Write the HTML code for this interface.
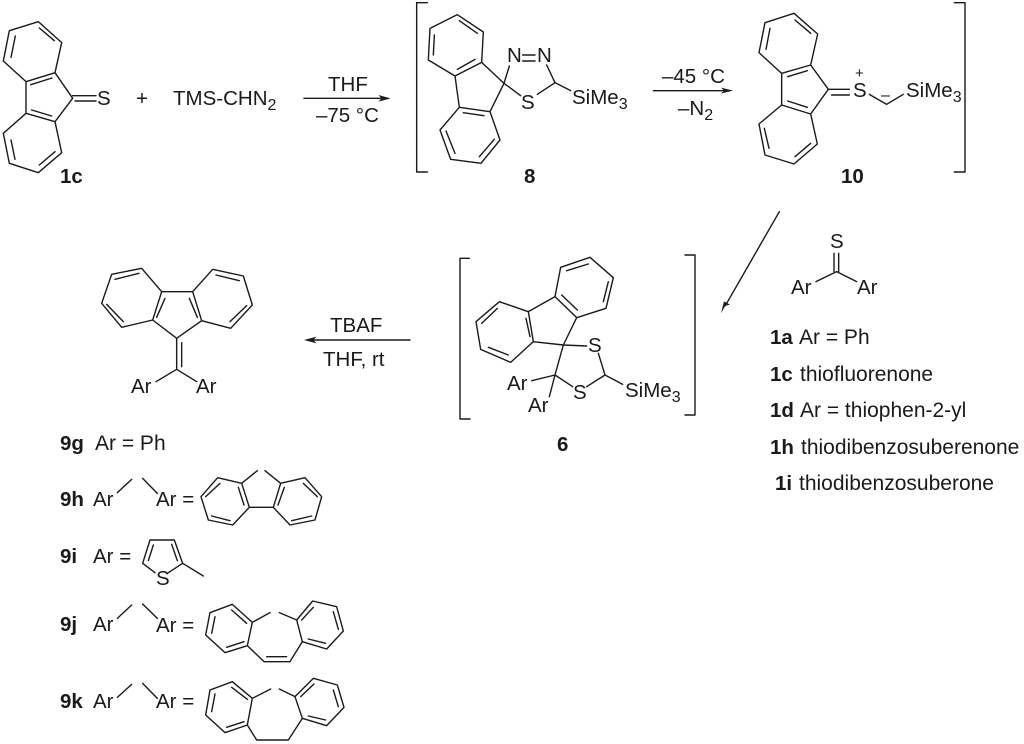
<!DOCTYPE html>
<html><head><meta charset="utf-8"><style>
html,body{margin:0;padding:0;background:#fff}
svg{display:block}
text{font-family:"Liberation Sans",Arial,sans-serif;font-size:20.5px;fill:#1a1a1a}
.c{font-size:21px}
.b{font-weight:bold}
tspan.s{font-size:16px}
g.m path{fill:none;stroke:#1a1a1a;stroke-width:4.2;stroke-linejoin:round;stroke-linecap:round}
g.m polygon{fill:#1a1a1a;stroke:none}
</style></head><body>
<svg width="1024" height="744" viewBox="0 0 1024 744" xmlns="http://www.w3.org/2000/svg">
<g class="m" transform="scale(.33333)">
<path d="M115 65L185 128L165 218L78 245L10 183L28 92ZM118 84L163 122M46 108L33 172M156 234L92 254M165 218L218 295L165 365L78 340L78 245M95 330L155 348M165 365L185 458L115 518L28 490L10 400L78 340M165 455L118 495M33 420L45 478M218 287L288 287M225 303L288 303M912 295L1150 295"/>
<polygon points="1172,295 1135,285 1145,295 1135,305"/>
</g>
<g class="m" transform="translate(400,0) scale(.33333)">
<path d="M82 8L50 8L50 516L82 516M172 44L250 96L245 187L165 228L85 180L90 85ZM178 62L232 100M103 105L100 165M225 178L172 208M245 187L312 250L270 335L178 322L165 228M190 338L252 347M270 335L300 420L243 490L152 478L120 390L178 322M283 418L238 470M138 393L165 460M312 250L328 198M368 165L405 165M368 183L405 183M440 195L465 248L412 283M465 248L512 272M312 250L362 287M760 272L975 272"/>
</g>
<g class="m" transform="translate(720,0) scale(.33333)">
<path d="M222 40L293 102L272 195L185 220L117 158L135 68ZM225 60L272 100M150 85L138 148M262 212L203 230M272 195L325 268L272 342L185 315L185 220M203 303L262 322M272 342L292 432L222 492L135 465L117 372L185 315M272 430L225 470M133 385L147 445M325 268L388 268M335 285L388 285M448 283L500 313L550 283M703 8L735 8L735 516L703 516"/>
<polygon points="39,272 3,263 12,272 3,281"/>
</g>
<g class="m" transform="translate(720,210) scale(.33333)">
<path d="M178 5L16 287M342 130L342 185M356 130L356 185M288 215L350 185L410 215"/>
<polygon points="3,310 12,274 30,284 16,287"/>
</g>
<g class="m" transform="translate(440,240) scale(.33333)">
<path d="M88 55L60 55L60 537L90 537M735 45L765 45L765 525L735 525M450 52L520 113L498 205L410 233L345 170L362 82ZM445 72L380 92M505 125L490 185M365 165L412 210M410 233L370 315L280 305L265 215L345 170M258 235L270 290M280 305L212 367L122 328L108 245L178 185L265 215M205 345L145 322M125 250L172 205M370 315L440 318M370 315L345 405L398 440M440 440L495 405L475 340M495 405L548 433M345 405L275 422M345 405L328 470"/>
</g>
<g class="m" transform="translate(60,240) scale(.33333)">
<path d="M245 85L305 155L278 240L185 262L125 190L155 103ZM237 100L165 118M140 193L190 245M305 155L398 155L425 242L350 295L278 240M315 175L290 232M388 175L412 232M398 155L458 88L550 108L577 195L512 265L425 242M468 105L538 122M560 197L510 245M350 295L350 388M365 308L365 380M288 425L350 388L410 425M1050 300L755 300"/>
<polygon points="732,300 770,290 760,300 770,310"/>
</g>
<g class="m" transform="translate(40,450) scale(.33333)">
<path d="M232 128L275 88M308 85L352 130M605 100L652 62M675 62L722 100M605 100L628 172L578 225L505 210L483 140L533 83ZM540 100L497 140M515 198L570 212M595 112L612 165M722 100L700 172L750 225L825 210L845 140L795 83ZM733 112L714 165M790 100L832 140M755 212L815 198M628 172L700 172M345 368L308 340L330 270L403 270L428 340L385 368M325 332L340 285M395 283L412 332M428 340L490 378"/>
</g>
<g class="m" transform="translate(40,590) scale(.33333)">
<path d="M232 85L275 45M308 42L352 85M577 43L637 97L622 167L555 188L497 135L510 68ZM575 60L620 100M525 80L515 130M560 172L612 155M770 90L818 33L890 50L910 123L860 177L787 155ZM785 90L820 52M880 65L895 118M805 147L857 160M637 97L690 68M718 68L770 90M622 167L672 215L750 215L787 155M680 200L740 200M232 322L275 283M308 280L352 325M577 275L637 325L622 405L555 428L497 375L510 300ZM575 292L622 328M525 312L515 365M560 412L612 395M765 320L820 265L892 285L912 352L860 407L787 385ZM782 320L822 282M880 300L895 350M805 378L857 390M637 325L692 297M718 297L765 320M622 405L650 450L745 450L787 385"/>
</g>

<text x="97" y="105">S</text>
<text x="136" y="105">+</text>
<text x="173" y="105">TMS-CHN<tspan class="s" dy="5">2</tspan></text>
<text x="328" y="91">THF</text>
<text x="316" y="122">–75 °C</text>
<text class="b" x="60" y="183">1c</text>

<text x="507" y="62">N</text>
<text x="537" y="62">N</text>
<text x="521" y="109">S</text>
<text x="572" y="104">SiMe<tspan class="s" dy="5">3</tspan></text>
<text class="b" x="524" y="183">8</text>
<text x="662" y="83">–45 °C</text>
<text x="678" y="115">–N<tspan class="s" dy="5">2</tspan></text>

<text x="853" y="97">S</text>
<text x="855" y="78" style="font-size:15px">+</text>
<text x="881" y="100" style="font-size:16px">–</text>
<text x="906" y="97">SiMe<tspan class="s" dy="5">3</tspan></text>
<text class="b" x="841" y="183">10</text>

<text x="830" y="248">S</text>
<text x="791" y="294">Ar</text>
<text x="857" y="294">Ar</text>
<text class="b" x="770" y="344">1a</text><text class="c" x="799" y="344">Ar = Ph</text>
<text class="b" x="770" y="381">1c</text><text class="c" x="800" y="381">thiofluorenone</text>
<text class="b" x="770" y="417">1d</text><text class="c" x="800" y="417">Ar = thiophen-2-yl</text>
<text class="b" x="770" y="454">1h</text><text class="c" x="801" y="454">thiodibenzosuberenone</text>
<text class="b" x="775" y="490">1i</text><text class="c" x="799" y="490">thiodibenzosuberone</text>

<text x="588" y="352">S</text>
<text x="573" y="399">S</text>
<text x="625" y="397">SiMe<tspan class="s" dy="5">3</tspan></text>
<text x="507" y="390">Ar</text>
<text x="528" y="412">Ar</text>
<text class="b" x="557" y="451">6</text>

<text x="330" y="332">TBAF</text>
<text x="323" y="366">THF, rt</text>
<text x="131" y="393">Ar</text>
<text x="196" y="393">Ar</text>

<text class="b" x="60" y="450">9g</text><text class="c" x="95" y="450">Ar = Ph</text>
<text class="b" x="60" y="506">9h</text><text x="93" y="506">Ar</text><text x="156" y="506">Ar =</text>
<text class="b" x="60" y="563">9i</text><text x="93" y="563">Ar =</text><text x="156" y="585">S</text>
<text class="b" x="60" y="631">9j</text><text x="93" y="631">Ar</text><text x="156" y="632">Ar =</text>
<text class="b" x="60" y="708">9k</text><text x="93" y="708">Ar</text><text x="156" y="708">Ar =</text>
</svg>
</body></html>
